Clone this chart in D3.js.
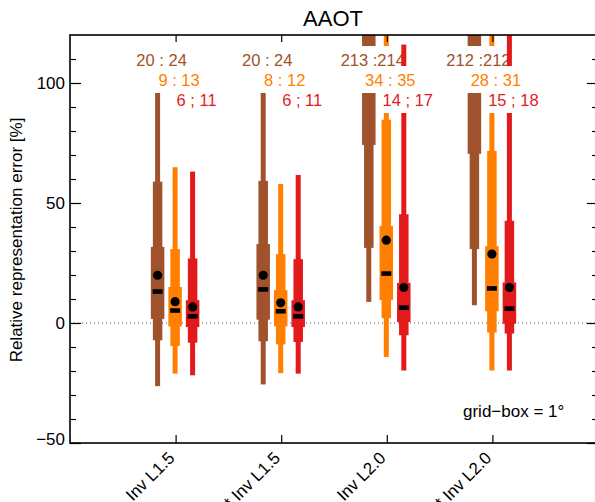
<!DOCTYPE html>
<html>
<head>
<meta charset="utf-8">
<script src="https://cdn.jsdelivr.net/npm/d3@7"></script>
<style>
  body { margin: 0; background: #fff; }
  text { font-family: "Liberation Sans", Arial, Helvetica, sans-serif; }
</style>
</head>
<body>
<svg id="chart" width="595" height="502"></svg>
<script>
// categories and series
const categories = ["Inv L1.5", "* Inv L1.5", "Inv L2.0", "* Inv L2.0"];
const series_names = ["brown", "orange", "red"];
const series_colors = ["#a0522d", "#ff7f00", "#e31a1c"];

// per category: [low outer, low inner, q1, median, q3, high inner, high outer]
const brown_stats = [
    [-26.3, -7.2, 1.7, 13.1, 31.7, 58.9, 96.0],
    [-25.6, -7.6, 1.4, 14.0, 32.9, 59.2, 96.0],
    [8.8, 31.3, 74.2, 160, 260, 380, 520],
    [7.4, 30.8, 70.5, 150, 250, 370, 500]
];
const orange_stats = [
    [-21.1, -9.6, -1.4, 5.2, 15.0, 30.8, 64.9],
    [-20.9, -8.9, -1.4, 4.9, 13.7, 28.7, 57.9],
    [-14.2, 2.0, 9.6, 20.6, 40.4, 84.7, 140],
    [-19.8, -4.0, 4.9, 14.4, 32.0, 71.7, 135]
];
const red_stats = [
    [-21.8, -8.2, -1.7, 2.8, 9.5, 26.9, 63.1],
    [-21.1, -7.9, -1.7, 2.8, 9.5, 26.6, 61.7],
    [-19.8, -5.1, 0.4, 6.4, 16.7, 45.3, 116],
    [-19.8, -4.4, -0.3, 6.0, 16.9, 42.6, 130]
];
const brown_means = [19.9, 19.9, 213, 212];
const orange_means = [8.9, 8.4, 34.5, 28.7];
const red_means = [6.7, 6.7, 14.8, 14.8];

const brown_labels = ["20 ; 24", "20 ; 24", "213 ;214", "212 ;212"];
const orange_labels = ["9 ; 13", "8 ; 12", "34 ; 35", "28 ; 31"];
const red_labels = ["6 ; 11", "6 ; 11", "14 ; 17", "15 ; 18"];

const y_major = [-50, 0, 50, 100];
const y_minor = [-40, -30, -20, -10, 10, 20, 30, 40, 60, 70, 80, 90, 110];

const all_stats = [brown_stats, orange_stats, red_stats];
const all_means = [brown_means, orange_means, red_means];
const all_labels = [brown_labels, orange_labels, red_labels];

const svg = d3.select("#chart");
const plot_left = 70, plot_right = 598, plot_top = 35, plot_bottom = 443;

const x = d3.scalePoint().domain(categories).range([plot_left, plot_right]).padding(1);
const x_off = d3.scalePoint().domain(series_names).range([-18, 17]);
const y = d3.scaleLinear().domain([-50, 120]).range([plot_bottom, plot_top]);

svg.append("rect").attr("width", 595).attr("height", 502).attr("fill", "#fff");

svg.append("defs").append("clipPath").attr("id", "plot-clip")
    .append("rect")
    .attr("x", plot_left).attr("y", plot_top)
    .attr("width", plot_right - plot_left).attr("height", plot_bottom - plot_top);

// zero line
svg.append("line")
    .attr("x1", plot_left).attr("x2", plot_right)
    .attr("y1", y(0)).attr("y2", y(0))
    .attr("stroke", "#555")
    .attr("stroke-width", 1)
    .attr("stroke-dasharray", "1,3");

const plot_g = svg.append("g");

function draw_bars(s) {
    const g = plot_g.append("g").attr("clip-path", "url(#plot-clip)");
    const color = series_colors[s];
    all_stats[s].forEach((st, i) => {
        const cx = x(categories[i]) + x_off(series_names[s]);
        const levels = [[st[0], st[6], 5], [st[1], st[5], 9.5], [st[2], st[4], 13.5]];
        levels.forEach(([lo, hi, w]) => {
            g.append("rect")
                .attr("x", cx - w / 2)
                .attr("y", y(hi))
                .attr("width", w)
                .attr("height", y(lo) - y(hi))
                .attr("fill", color);
        });
        g.append("rect")
            .attr("x", cx - 5)
            .attr("y", y(st[3]) - 2.3)
            .attr("width", 10)
            .attr("height", 4.6)
            .attr("fill", "#000");
        g.append("circle")
            .attr("cx", cx)
            .attr("cy", y(all_means[s][i]))
            .attr("r", 4.6)
            .attr("fill", "#000");
    });
}

const label_rows = [66, 86, 106];

function draw_labels(s) {
    const g = plot_g.append("g");
    all_labels[s].forEach((lab, i) => {
        const cx = x(categories[i]) + x_off(series_names[s]) + 4;
        const box = g.append("rect").attr("fill", "#fff");
        const t = g.append("text")
            .attr("x", cx)
            .attr("y", label_rows[s])
            .attr("text-anchor", "middle")
            .attr("font-size", "16.5px")
            .attr("fill", series_colors[s])
            .text(lab);
        const bb = t.node().getBBox();
        box.attr("x", bb.x - 4)
            .attr("y", label_rows[s] - 20)
            .attr("width", bb.width + 8)
            .attr("height", 27);
    });
}

for (let s = 0; s < series_names.length; s++) {
    draw_bars(s);
    if (s > 0) draw_labels(s - 1);
}
draw_labels(series_names.length - 1);

// axes
const fmt = d => d < 0 ? "\u2212" + Math.abs(d) : d;

const y_left = svg.append("g").attr("transform", `translate(${plot_left},0)`)
    .call(d3.axisLeft(y).tickValues(y_major).tickSize(-11).tickPadding(5).tickFormat(fmt));
svg.append("g").attr("transform", `translate(${plot_left},0)`)
    .call(d3.axisLeft(y).tickValues(y_minor).tickSize(-6).tickFormat(""));
svg.append("g").attr("transform", `translate(${plot_right},0)`)
    .call(d3.axisRight(y).tickValues(y_major).tickSize(-11).tickFormat(""));
svg.append("g").attr("transform", `translate(${plot_right},0)`)
    .call(d3.axisRight(y).tickValues(y_minor).tickSize(-6).tickFormat(""));
svg.append("g").attr("transform", `translate(0,${plot_top})`)
    .call(d3.axisTop(x).tickSize(-7).tickFormat(""));
svg.append("g").attr("transform", `translate(0,${plot_bottom})`)
    .call(d3.axisBottom(x).tickSize(-8).tickFormat(""));

svg.selectAll(".domain").remove();
svg.selectAll(".tick line").attr("stroke", "#000").attr("stroke-width", 1.2);

y_left.selectAll("text")
    .attr("font-size", "17px")
    .attr("fill", "#000")
    .attr("font-family", "Liberation Sans, Arial, sans-serif")
    .filter(d => d === -50)
    .attr("y", -4);

svg.append("rect")
    .attr("x", plot_left).attr("y", plot_top)
    .attr("width", plot_right - plot_left).attr("height", plot_bottom - plot_top)
    .attr("fill", "none")
    .attr("stroke", "#000")
    .attr("stroke-width", 1.6);

// title, axis titles, note
svg.append("text")
    .attr("x", (plot_left + plot_right) / 2 - 1)
    .attr("y", 26)
    .attr("text-anchor", "middle")
    .attr("font-size", "22px")
    .text("AAOT");

svg.append("text")
    .attr("transform", "translate(22,240) rotate(-90)")
    .attr("text-anchor", "middle")
    .attr("font-size", "17px")
    .text("Relative representation error [%]");

svg.append("g").selectAll("text")
    .data(categories)
    .join("text")
    .attr("transform", d => `translate(${x(d)},${plot_bottom + 16}) rotate(-45)`)
    .attr("text-anchor", "end")
    .attr("font-size", "17px")
    .text(d => d);

svg.append("text")
    .attr("x", 463)
    .attr("y", 417)
    .attr("font-size", "17px")
    .text("grid\u2212box = 1\u00b0");
</script>
</body>
</html>
